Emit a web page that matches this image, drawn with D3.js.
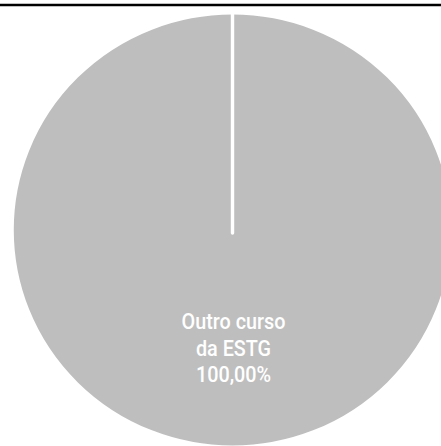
<!DOCTYPE html>
<html>
<head>
<meta charset="utf-8">
<script src="https://cdn.jsdelivr.net/npm/d3@7"></script>
<style>
  html, body { margin: 0; padding: 0; background: #ffffff; }
  svg { display: block; }
</style>
</head>
<body>
<svg id="chart" width="441" height="446"></svg>
<script>
// ---- data ----
const categories = ["Outro curso da ESTG"];
const labelLines = [["Outro curso", "da ESTG"]];
const values = [100];
const colors = ["#bebebe"];

// ---- layout ----
const W = 441, H = 446;
const cx = 232.5, cy = 230;
const radius = 216.5;
const xStretch = 1.015;
const textSqueeze = 0.9;

const svg = d3.select("#chart");

// top rule
svg.append("line")
  .attr("x1", 0).attr("x2", W)
  .attr("y1", 5).attr("y2", 5)
  .attr("stroke", "#000").attr("stroke-width", 2.4);

const ptBR = d3.formatLocale({decimal: ",", thousands: ".", grouping: [3], currency: ["", "€"]});
const fmt = ptBR.format(".2f");
const total = d3.sum(values);

const pie = d3.pie().sort(null).value(d => d)(values);
const arc = d3.arc().innerRadius(0).outerRadius(radius);
const labelArc = d3.arc().innerRadius(radius * 0.545).outerRadius(radius * 0.545);

const g = svg.append("g").attr("transform", `translate(${cx},${cy}) scale(${xStretch},1)`);

g.selectAll("path.slice")
  .data(pie)
  .join("path")
  .attr("class", "slice")
  .attr("d", arc)
  .attr("fill", (d, i) => colors[i])
  .attr("stroke", "#fff")
  .attr("stroke-width", 2);

// slice border lines (start angle edges)
g.selectAll("line.edge")
  .data(pie)
  .join("line")
  .attr("class", "edge")
  .attr("x1", 0).attr("y1", 3)
  .attr("x2", d => Math.sin(d.startAngle) * radius)
  .attr("y2", d => -Math.cos(d.startAngle) * radius)
  .attr("stroke", "#fff")
  .attr("stroke-width", 3.4)
  .attr("stroke-linecap", "round");

// labels
pie.forEach((d, i) => {
  const [lx, ly] = labelArc.centroid(d);
  const px = cx + lx * xStretch + 1;
  const py = cy + ly + 8;
  const lines = labelLines[i].concat([fmt(values[i] / total * 100) + "%"]);
  const lh = 26.5;
  const t = svg.append("g")
    .attr("transform", `translate(${px},${py}) scale(${textSqueeze},1)`)
    .append("text")
    .attr("text-anchor", "middle")
    .attr("fill", "#ffffff")
    .attr("font-family", "Roboto, 'Noto Sans', sans-serif")
    .attr("font-size", 22)
    .attr("font-weight", 500);
  lines.forEach((s, k) => {
    t.append("tspan")
      .attr("x", 0)
      .attr("y", (k - (lines.length - 1) / 2) * lh)
      .text(s);
  });
});
</script>
</body>
</html>
